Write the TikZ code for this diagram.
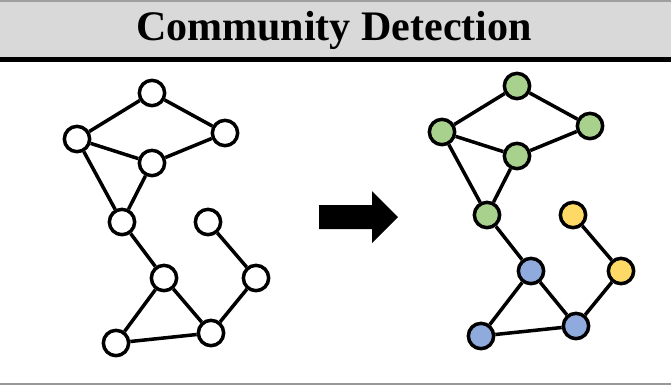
\documentclass[tikz,border=0pt]{standalone}
\usepackage{fontspec}
\setmainfont{Liberation Serif}
\usepackage{xcolor}
\usepackage{tikz}

\definecolor{grpgreen}{HTML}{A9D18E}
\definecolor{grpblue}{HTML}{8FAADC}
\definecolor{grpyellow}{HTML}{FFD966}
\definecolor{barfill}{HTML}{D9D9D9}

\begin{document}
\begin{tikzpicture}[x=0.03cm, y=-0.03cm,
% common options for the vertices:
vertex/.style = {circle, draw, fill=white, line width=0.105cm,
            minimum size=0.76cm, inner sep=0},
% common options for the links:
link/.style = {line width=0.105cm}]
\useasboundingbox (0,0) rectangle (671,386);
% title bar
\fill[barfill] (0,1) rectangle (671,58);
\draw[line width=0.08cm, gray!75] (0,1) -- (671,1);
\draw[line width=0.14cm] (0,59.8) -- (671,59.8);
\draw[line width=0.08cm, gray!80] (0,384) -- (671,384);
\node[font=\bfseries\fontsize{35.9}{40}\selectfont, anchor=base, inner sep=0] (T0) at (334,40.7) {Community Detection};
% input graph
\node[vertex] (A1) at (152,93) {};
\node[vertex] (A2) at (77,139) {};
\node[vertex] (A3) at (225,133) {};
\node[vertex] (A4) at (152,163) {};
\node[vertex] (A5) at (122,222) {};
\node[vertex] (A6) at (208,222) {};
\node[vertex] (A7) at (164,278) {};
\node[vertex] (A8) at (256,278) {};
\node[vertex] (A9) at (116,343) {};
\node[vertex] (A10) at (211,333) {};
\draw[link] (A1) to (A2);
\draw[link] (A1) to (A3);
\draw[link] (A2) to (A4);
\draw[link] (A3) to (A4);
\draw[link] (A2) to (A5);
\draw[link] (A4) to (A5);
\draw[link] (A5) to (A7);
\draw[link] (A6) to (A8);
\draw[link] (A7) to (A9);
\draw[link] (A7) to (A10);
\draw[link] (A9) to (A10);
\draw[link] (A8) to (A10);
% arrow
\fill (319,205) -- (372,205) -- (372,191) -- (398,217) -- (372,243)
    -- (372,229) -- (319,229) -- cycle;
% detected communities
\node[vertex, fill=grpgreen] (B1) at (517,86) {};
\node[vertex, fill=grpgreen] (B2) at (442,132) {};
\node[vertex, fill=grpgreen] (B3) at (590,126) {};
\node[vertex, fill=grpgreen] (B4) at (517,156) {};
\node[vertex, fill=grpgreen] (B5) at (487,215) {};
\node[vertex, fill=grpyellow] (B6) at (573,215) {};
\node[vertex, fill=grpblue] (B7) at (531,271) {};
\node[vertex, fill=grpyellow] (B8) at (621,271) {};
\node[vertex, fill=grpblue] (B9) at (481,336) {};
\node[vertex, fill=grpblue] (B10) at (576,326) {};
\draw[link] (B1) to (B2);
\draw[link] (B1) to (B3);
\draw[link] (B2) to (B4);
\draw[link] (B3) to (B4);
\draw[link] (B2) to (B5);
\draw[link] (B4) to (B5);
\draw[link] (B5) to (B7);
\draw[link] (B6) to (B8);
\draw[link] (B7) to (B9);
\draw[link] (B7) to (B10);
\draw[link] (B9) to (B10);
\draw[link] (B8) to (B10);
\end{tikzpicture}
\end{document}
